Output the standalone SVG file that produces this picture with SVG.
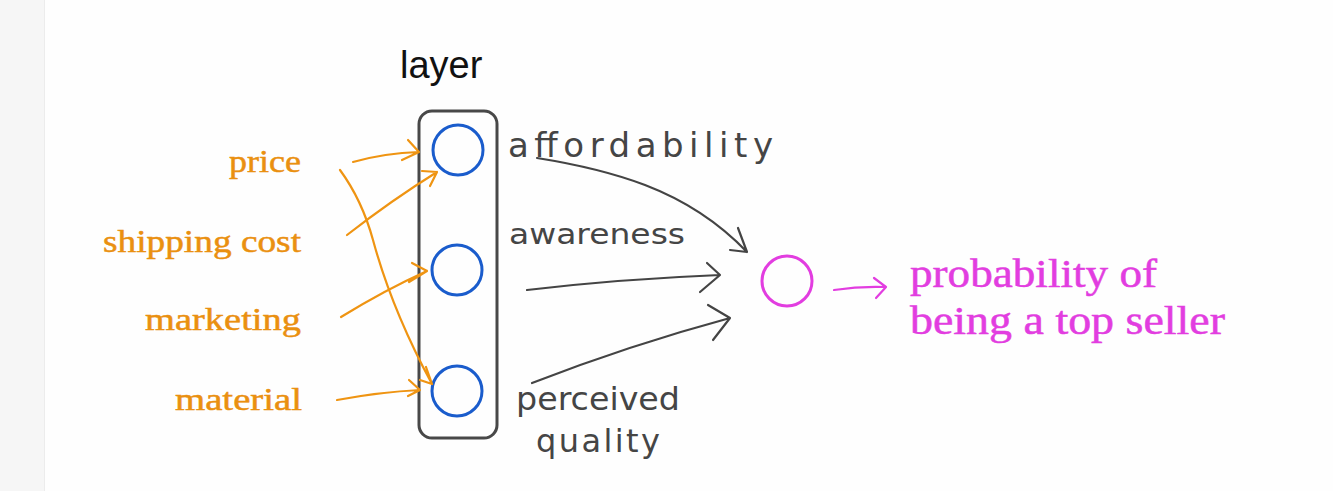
<svg xmlns="http://www.w3.org/2000/svg" width="1333" height="491" viewBox="0 0 1333 491">
<defs>
<style>
.in{font-family:"Liberation Serif",serif;font-size:32px;fill:#ea9010;stroke:#ea9010;stroke-width:0.5;text-anchor:end}
.out{font-family:"Liberation Serif",serif;font-size:39px;fill:#e23de0;stroke:#e23de0;stroke-width:0.5}
.hand{font-family:"DejaVu Sans",sans-serif;fill:#454545;}
.oa{fill:none;stroke:#ef9412;stroke-width:2.2;stroke-linecap:round;stroke-linejoin:round}
.ba{fill:none;stroke:#444;stroke-width:2.2;stroke-linecap:round;stroke-linejoin:round}
.hid{fill:none;stroke:#1a5ccc;stroke-width:3}
</style>
</defs>
<rect width="1333" height="491" fill="#fefefe"/>
<rect width="44" height="491" fill="#f6f6f6"/>
<line x1="44.5" y1="0" x2="44.5" y2="491" stroke="#ececec" stroke-width="1"/>

<g id="layer-title"><text x="400" y="78" font-family="Liberation Sans,sans-serif" font-size="38" fill="#111">layer</text></g>
<g id="layer-box"><rect x="419" y="111" width="78" height="327" rx="13" fill="none" stroke="#484848" stroke-width="3"/></g>

<g id="h1"><circle cx="458" cy="150" r="25" class="hid"/></g>
<g id="h2"><circle cx="457" cy="270" r="25" class="hid"/></g>
<g id="h3"><circle cx="457" cy="391" r="25" class="hid"/></g>
<g id="out"><circle cx="787" cy="281" r="25" fill="none" stroke="#e23de0" stroke-width="3"/></g>

<g id="in-price"><text class="in" x="301" y="172" textLength="72" lengthAdjust="spacingAndGlyphs">price</text></g>
<g id="in-shipping"><text class="in" x="301" y="252" textLength="198" lengthAdjust="spacingAndGlyphs">shipping cost</text></g>
<g id="in-marketing"><text class="in" x="301" y="330" textLength="156" lengthAdjust="spacingAndGlyphs">marketing</text></g>
<g id="in-material"><text class="in" x="302" y="410" textLength="127" lengthAdjust="spacingAndGlyphs">material</text></g>

<g id="lbl-affordability"><text class="hand" x="508" y="157" font-size="34" textLength="265" lengthAdjust="spacing">affordability</text></g>
<g id="lbl-awareness"><text class="hand" x="509" y="244" font-size="28" textLength="176" lengthAdjust="spacingAndGlyphs">awareness</text></g>
<g id="lbl-perceived"><text class="hand" x="516" y="410" font-size="32" textLength="164" lengthAdjust="spacingAndGlyphs">perceived</text><text class="hand" x="536" y="452" font-size="32" textLength="124" lengthAdjust="spacing">quality</text></g>

<g id="result"><text class="out" x="910" y="287" textLength="247" lengthAdjust="spacingAndGlyphs">probability of</text><text class="out" x="910" y="334" textLength="315" lengthAdjust="spacingAndGlyphs">being a top seller</text></g>

<g id="connectors">
<path class="oa" d="M353 162 Q385 153 419 152 M408 140 L419 152 L402 160"/>
<path class="oa" d="M347 235 Q392 200 437 172 M422 171 L437 172 L430 186"/>
<path class="oa" d="M341 317 Q385 290 427 271 M412 263 L427 271 L409 282"/>
<path class="oa" d="M340 170 Q362 200 373 240 Q392 310 432 384 M426 367 L432 384 L420 380"/>
<path class="oa" d="M337 400 Q380 392 420 390 M409 380 L420 390 L408 396"/>
<path class="ba" d="M537 158 Q600 168 645 185 Q705 208 747 252 M738 228 L747 252 L730 250"/>
<path class="ba" d="M527 290 Q620 279 720 275 M707 263 L720 275 L700 292"/>
<path class="ba" d="M532 383 Q630 345 730 318 M708 305 L730 318 L713 340"/>
<path d="M834 290 Q860 286 886 287 M874 278 L886 287 L876 298" fill="none" stroke="#e23de0" stroke-width="2.2" stroke-linecap="round" stroke-linejoin="round"/>
</g>
</svg>
